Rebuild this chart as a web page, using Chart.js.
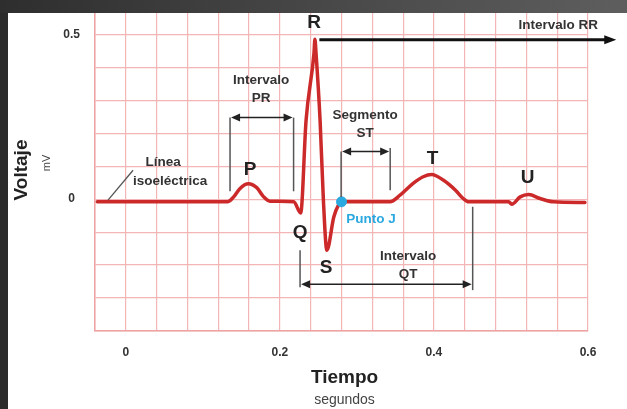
<!DOCTYPE html>
<html lang="es">
<head>
<meta charset="utf-8">
<title>Electrocardiograma</title>
<script src="https://cdn.jsdelivr.net/npm/chart.js@4.4.1/dist/chart.umd.min.js"></script>
<style>
    html, body { margin: 0; padding: 0; }
    body { width: 627px; height: 409px; background: #2b2b2b; position: relative; overflow: hidden; }
    .barra { position: absolute; left: 0; top: 0; width: 627px; height: 13px; background: linear-gradient(90deg, #2e2e2e 0%, #474747 50%, #5e5e5e 100%); }
    .lienzo { position: absolute; left: 8px; top: 13px; width: 619px; height: 396px; background: #fff; }
</style>
</head>
<body>
<div class="barra"></div>
<div class="lienzo"><canvas id="grafico" width="619" height="396"></canvas></div>
<script>
// trazo del ECG (segundos, mV)
const tiempos = [
    -0.037, 0.132, 0.140, 0.148, 0.159, 0.170, 0.179, 0.187,
    0.218, 0.227, 0.234, 0.2442, 0.2455, 0.247, 0.2522, 0.2565, 0.261,
    0.270, 0.276, 0.280, 0.343,
    0.356, 0.373, 0.386, 0.397, 0.412, 0.428, 0.438, 0.445,
    0.497, 0.501, 0.512, 0.523, 0.538, 0.555, 0.596
];
const voltajes = [
    -0.008, -0.008, 0.007, 0.032, 0.047, 0.035, 0.007, -0.006,
    -0.008, -0.042, 0.239, 0.441, 0.485, 0.441, 0.239, -0.003, -0.155,
    -0.054, -0.018, -0.008, -0.008,
    0.012, 0.048, 0.068, 0.075, 0.058, 0.027, 0.002, -0.008,
    -0.008, -0.015, 0.007, 0.014, 0.002, -0.008, -0.010
];
const puntoJ = { x: 0.280, y: -0.008 };

const gridX = [-0.04, 0, 0.04, 0.08, 0.12, 0.16, 0.2, 0.24, 0.28, 0.32, 0.36, 0.4, 0.44, 0.48, 0.52, 0.56, 0.6];
const etiquetasX = [0, 0.2, 0.4, 0.6];
const gridY = [-0.4, -0.3, -0.2, -0.1, 0, 0.1, 0.2, 0.3, 0.4, 0.5];
const etiquetasY = [0, 0.5];

// intervalos marcados (segundos)
const intervaloPR = [0.1353, 0.2178];
const segmentoST = [0.2795, 0.3432];
const intervaloQT = [0.2262, 0.4503];
const inicioRR = 0.2513;

const FUENTE = "'Liberation Sans', Arial, sans-serif";
const ROJO = '#cc2a2a';
const AZUL = '#2aa8e0';

function escribir(ctx, str, x, y, font, color) {
    ctx.font = font;
    ctx.fillStyle = color;
    ctx.textAlign = 'center';
    ctx.textBaseline = 'middle';
    ctx.fillText(str, x, y);
}

function linea(ctx, x1, y1, x2, y2, color, ancho) {
    ctx.beginPath();
    ctx.moveTo(x1, y1);
    ctx.lineTo(x2, y2);
    ctx.strokeStyle = color;
    ctx.lineWidth = ancho;
    ctx.stroke();
}

function punta(ctx, x, y, dir, largo, ancho, color) {
    ctx.beginPath();
    ctx.moveTo(x, y);
    ctx.lineTo(x - dir * largo, y - ancho / 2);
    ctx.lineTo(x - dir * largo, y + ancho / 2);
    ctx.closePath();
    ctx.fillStyle = color;
    ctx.fill();
}

function flechaDoble(ctx, x1, x2, y) {
    linea(ctx, x1 + 6, y, x2 - 6, y, '#222', 1.5);
    punta(ctx, x1, y, -1, 9, 8, '#222');
    punta(ctx, x2, y, 1, 9, 8, '#222');
}

const anotaciones = {
    id: 'anotaciones',
    afterDraw(chart) {
        const ctx = chart.ctx;
        const area = chart.chartArea;
        const X = (t) => chart.scales.x.getPixelForValue(t);
        const Y = (v) => chart.scales.y.getPixelForValue(v);
        const negrita = (px) => `bold ${px}px ${FUENTE}`;
        const gris = '#555';

        ctx.save();

        // linea isoelectrica
        linea(ctx, X(-0.0231), Y(-0.003), X(0.0094), Y(0.0879), gris, 1.3);
        escribir(ctx, 'Línea', X(0.0483), Y(0.112), negrita(13.5), '#333');
        escribir(ctx, 'isoeléctrica', X(0.0574), Y(0.055), negrita(13.5), '#333');

        // intervalo PR
        linea(ctx, X(intervaloPR[0]), Y(0.2476), X(intervaloPR[0]), Y(0.024), gris, 1.5);
        linea(ctx, X(intervaloPR[1]), Y(0.2476), X(intervaloPR[1]), Y(0.024), gris, 1.5);
        flechaDoble(ctx, X(intervaloPR[0]) + 1, X(intervaloPR[1]) - 1, Y(0.2476));
        escribir(ctx, 'Intervalo', X(0.1756), Y(0.3606), negrita(13.5), '#333');
        escribir(ctx, 'PR', X(0.1756), Y(0.306), negrita(13.5), '#333');

        // segmento ST
        linea(ctx, X(segmentoST[0]), Y(0.145), X(segmentoST[0]), Y(0.007), gris, 1.5);
        linea(ctx, X(segmentoST[1]), Y(0.155), X(segmentoST[1]), Y(0.027), gris, 1.5);
        flechaDoble(ctx, X(segmentoST[0]) + 1, X(segmentoST[1]) - 1, Y(0.145));
        escribir(ctx, 'Segmento', X(0.3106), Y(0.2545), negrita(13.5), '#333');
        escribir(ctx, 'ST', X(0.3106), Y(0.2), negrita(13.5), '#333');

        // intervalo QT
        linea(ctx, X(intervaloQT[0]), Y(-0.155), X(intervaloQT[0]), Y(-0.267), gris, 1.5);
        linea(ctx, X(intervaloQT[1]), Y(-0.023), X(intervaloQT[1]), Y(-0.276), gris, 1.5);
        flechaDoble(ctx, X(intervaloQT[0]) + 1, X(intervaloQT[1]) - 1, Y(-0.2585));
        escribir(ctx, 'Intervalo', X(0.3665), Y(-0.173), negrita(13.5), '#333');
        escribir(ctx, 'QT', X(0.3665), Y(-0.227), negrita(13.5), '#333');

        // intervalo RR
        const finRR = X(0.6367);
        linea(ctx, X(inicioRR), Y(0.484), finRR - 8, Y(0.484), '#111', 3);
        punta(ctx, finRR, Y(0.484), 1, 12, 9, '#111');
        escribir(ctx, 'Intervalo RR', X(0.5613), Y(0.527), negrita(13.5), '#333');

        // ondas
        escribir(ctx, 'P', X(0.1613), Y(0.0879), negrita(19), '#222');
        escribir(ctx, 'Q', X(0.2262), Y(-0.103), negrita(19), '#222');
        escribir(ctx, 'R', X(0.2444), Y(0.536), negrita(19), '#222');
        escribir(ctx, 'S', X(0.26), Y(-0.209), negrita(19), '#222');
        escribir(ctx, 'T', X(0.3983), Y(0.124), negrita(19), '#222');
        escribir(ctx, 'U', X(0.5217), Y(0.0636), negrita(19), '#222');

        escribir(ctx, 'Punto J', X(0.3184), Y(-0.0606), negrita(13.5), AZUL);

        // titulos de ejes
        const centroY = (area.top + area.bottom) / 2;
        ctx.save();
        ctx.translate(14, centroY - 2);
        ctx.rotate(-Math.PI / 2);
        escribir(ctx, 'Voltaje', 0, 0, negrita(19), '#222');
        ctx.restore();
        ctx.save();
        ctx.translate(39, centroY - 9);
        ctx.rotate(-Math.PI / 2);
        escribir(ctx, 'mV', 0, 0, `11px ${FUENTE}`, '#444');
        ctx.restore();

        const centroX = (area.left + area.right) / 2 + 3;
        escribir(ctx, 'Tiempo', centroX, area.bottom + 47, negrita(19), '#222');
        escribir(ctx, 'segundos', centroX, area.bottom + 69, `14px ${FUENTE}`, '#444');

        ctx.restore();
    }
};

new Chart(document.getElementById('grafico'), {
    type: 'line',
    data: {
        datasets: [
            {
                label: 'Punto J',
                type: 'scatter',
                data: [puntoJ],
                pointRadius: 5,
                backgroundColor: AZUL,
                borderColor: AZUL,
                order: 0,
            },
            {
                label: 'ECG',
                data: tiempos.map((t, i) => ({ x: t, y: voltajes[i] })),
                borderColor: ROJO,
                borderWidth: 3.5,
                borderJoinStyle: 'round',
                borderCapStyle: 'round',
                pointRadius: 0,
                cubicInterpolationMode: 'monotone',
                order: 1,
            },
        ],
    },
    options: {
        responsive: false,
        animation: false,
        devicePixelRatio: 1,
        layout: { autoPadding: false, padding: { left: 0, top: 0, right: 39, bottom: 0 } },
        plugins: {
            legend: { display: false },
            tooltip: { enabled: false },
        },
        scales: {
            x: {
                type: 'linear',
                min: -0.04,
                max: 0.6,
                afterBuildTicks: (scale) => { scale.ticks = gridX.map((v) => ({ value: v })); },
                afterFit: (scale) => { scale.height = 78; },
                ticks: {
                    autoSkip: false,
                    maxRotation: 0,
                    padding: 14,
                    color: '#333',
                    font: { family: FUENTE, size: 12, weight: 'bold' },
                    callback: (v) => (etiquetasX.includes(v) ? String(v) : ''),
                },
                grid: { color: '#f3b5b5', lineWidth: 1.2, drawTicks: false },
                border: { color: '#eda3a3', width: 1.5 },
            },
            y: {
                min: -0.4,
                max: 0.565,
                afterBuildTicks: (scale) => { scale.ticks = gridY.map((v) => ({ value: v })); },
                afterFit: (scale) => {
                    scale.width = 87;
                    scale.paddingTop = 0;
                    scale.paddingBottom = 0;
                },
                ticks: {
                    autoSkip: false,
                    crossAlign: 'center',
                    padding: 15,
                    color: '#333',
                    font: { family: FUENTE, size: 12, weight: 'bold' },
                    callback: (v) => (etiquetasY.includes(v) ? String(v) : ''),
                },
                grid: { color: '#f3b5b5', lineWidth: 1.2, drawTicks: false },
                border: { color: '#eda3a3', width: 1.5 },
            },
        },
    },
    plugins: [anotaciones],
});
</script>
</body>
</html>
